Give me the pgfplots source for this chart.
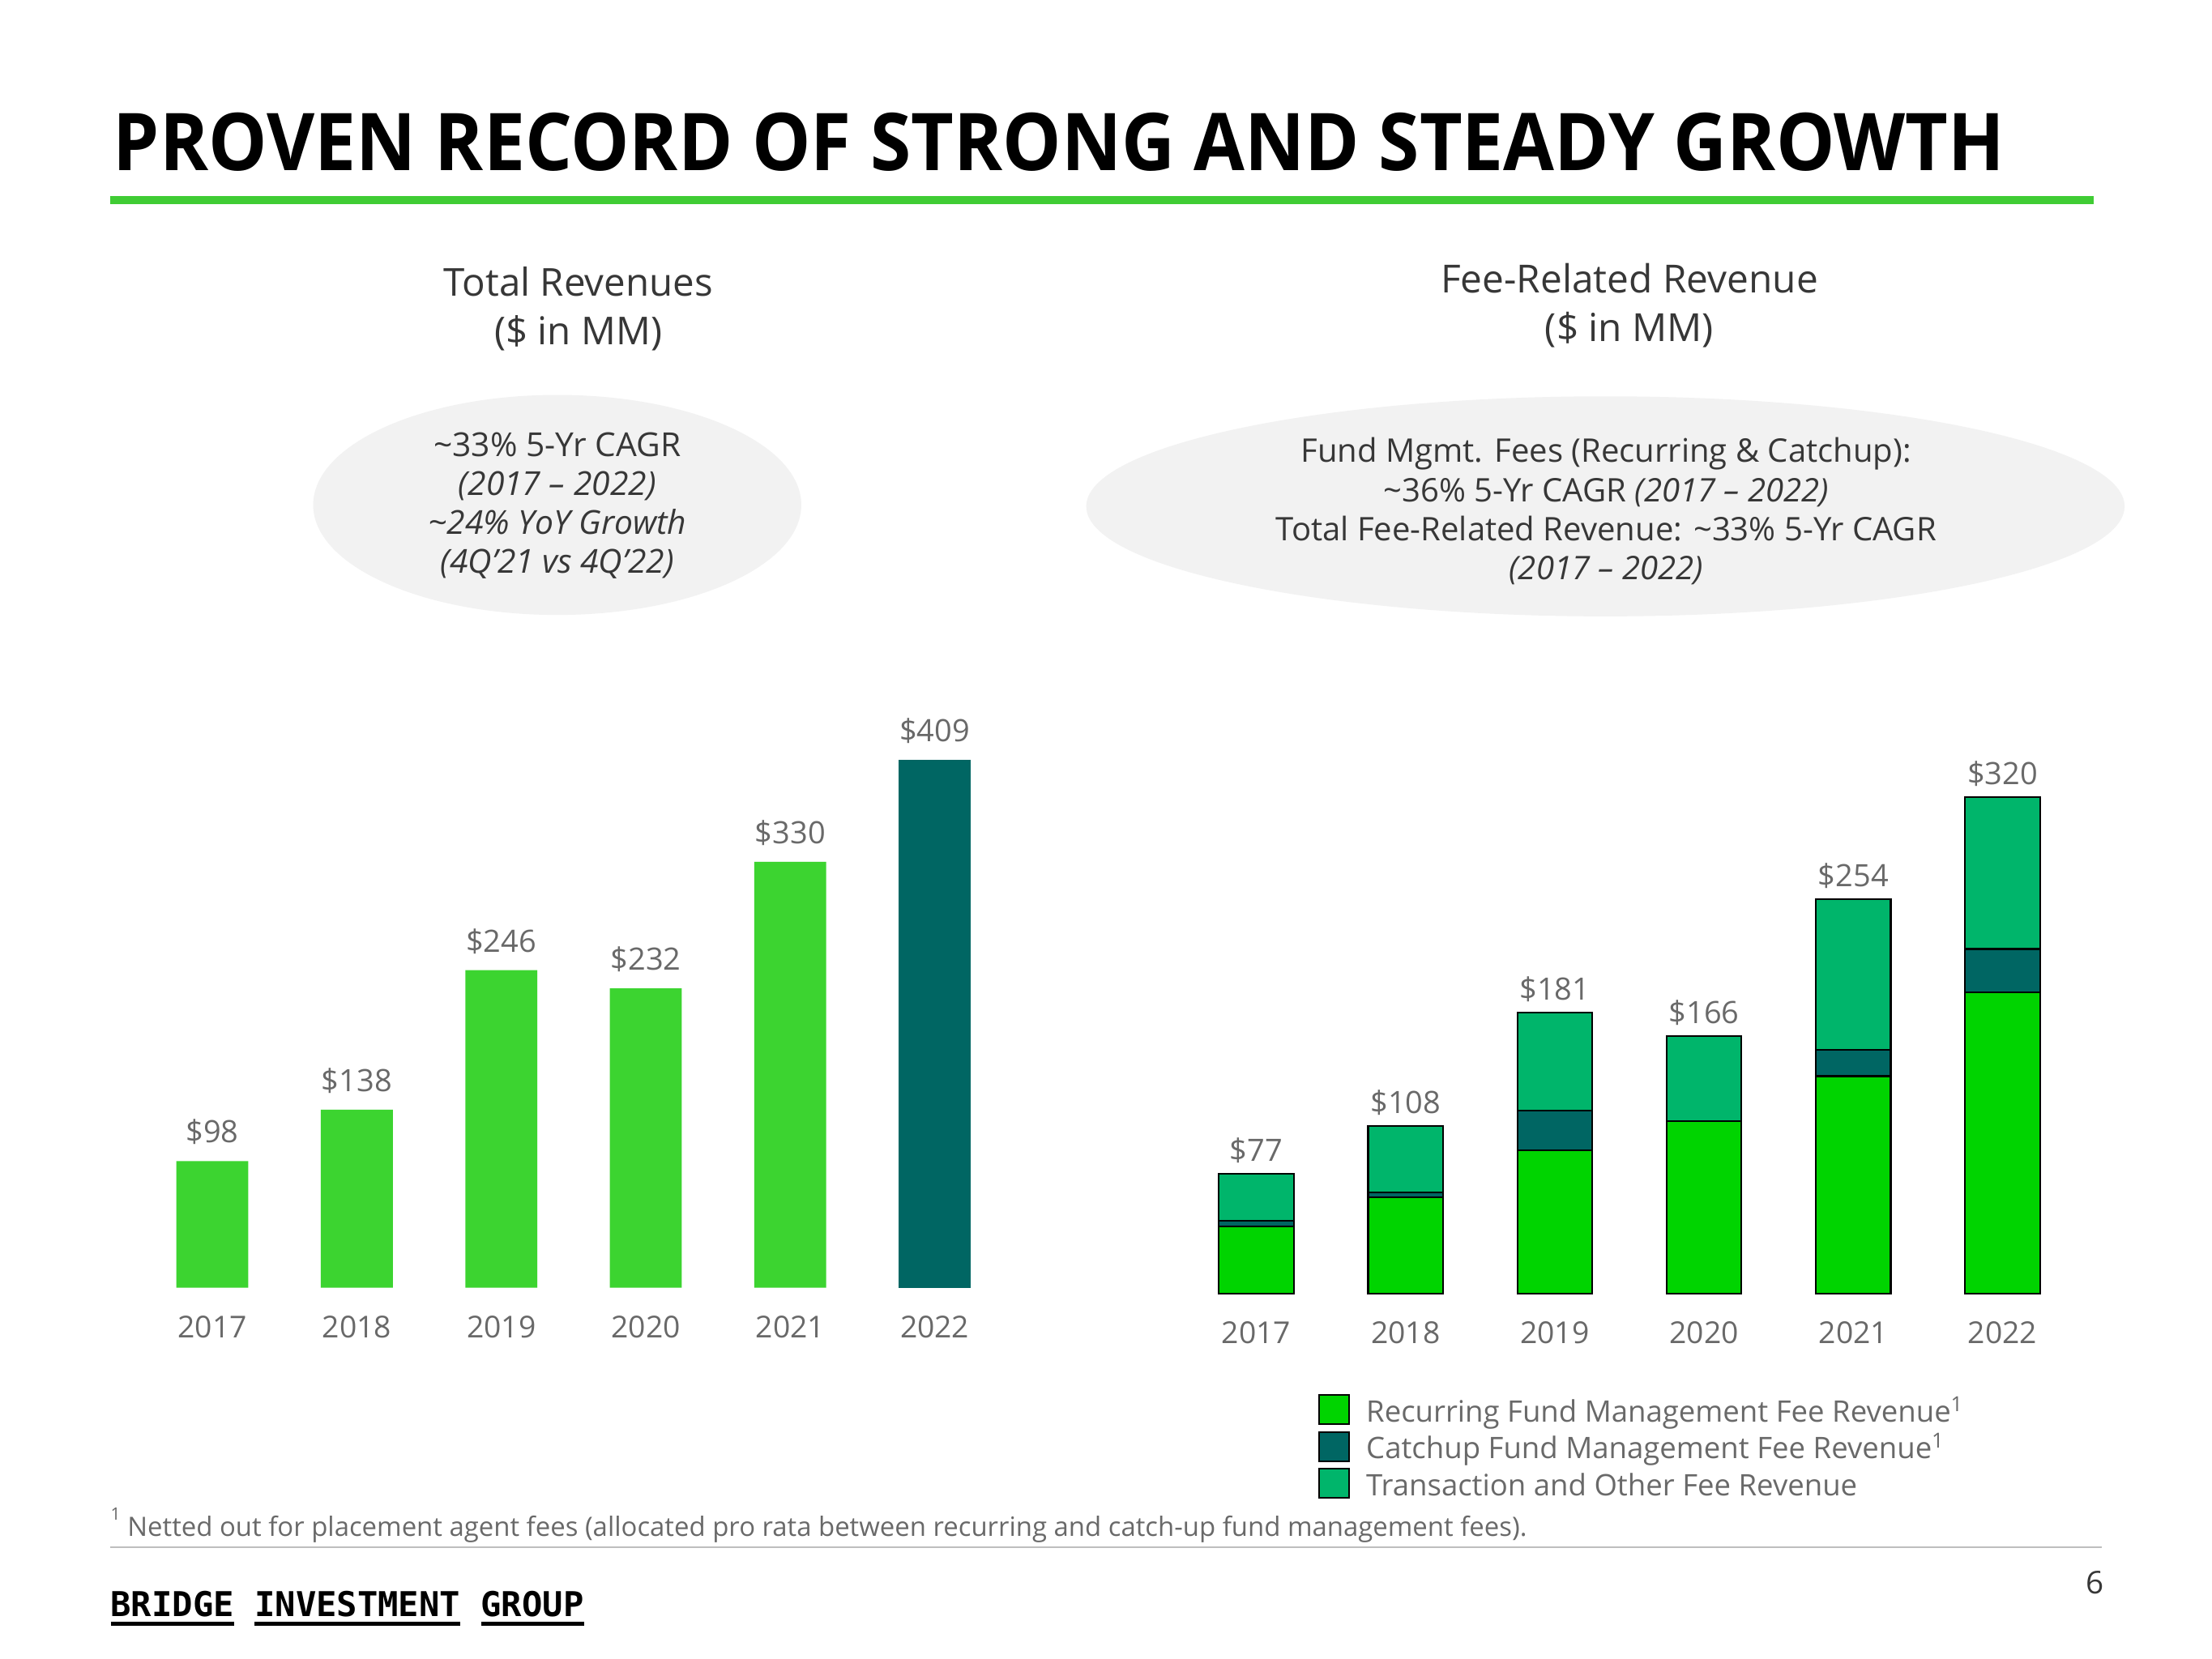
\documentclass[border=0pt]{standalone}
\usepackage{fontspec}
\setmainfont{Open Sans}
\newfontfamily\monofont{DejaVu Sans Mono}
\usepackage{pgfplots}
\pgfplotsset{compat=1.18}
\usepackage{pgfplotstable}
\definecolor{titlegreen}{RGB}{64,204,52}
\definecolor{leftgreen}{RGB}{60,212,48}
\definecolor{tealc}{RGB}{0,102,99}
\definecolor{recgreen}{RGB}{0,212,0}
\definecolor{transgreen}{RGB}{0,181,107}
\definecolor{ellgray}{RGB}{242,242,242}
\definecolor{darktext}{RGB}{55,55,55}
\definecolor{labgray}{RGB}{105,105,105}
\definecolor{rulegray}{RGB}{190,190,190}

\pgfplotstableread{
x total
0 98
1 138
2 246
3 232
4 330
}\totalA
\pgfplotstableread{
x total
5 409
}\totalB
\pgfplotstableread{
x rec catch trans total
0 43 4 30 77
1 62 3 43 108
2 92 26 63 181
3 111 0 55 166
4 140 17 97 254
5 194 28 98 320
}\fee

\newcommand\ulw[1]{\setbox0\hbox{#1}\rlap{\rule[-3.2pt]{\wd0}{1.2pt}}\box0\relax}

\begin{document}
\begin{tikzpicture}[x=0.01741cm,y=-0.01741cm]
\path[use as bounding box, fill=white] (0,0) rectangle (1568,1176);
% title
\node[anchor=base west, inner sep=0, font=\fontsize{28}{30}\selectfont\bfseries] at (80,121) {\scalebox{0.926}[1]{PROVEN RECORD OF STRONG AND STEADY GROWTH}};
\fill[titlegreen] (78,139) rectangle (1484,145);
% subtitles
\node[align=center, font=\fontsize{13.5}{16.9}\selectfont, text=darktext, inner sep=0] at (410,219) {Total Revenues\\(\$ in MM)};
\node[align=center, font=\fontsize{13.6}{17}\selectfont, text=darktext, inner sep=0] at (1155,216.5) {Fee-Related Revenue\\(\$ in MM)};
% ellipses
\fill[ellgray] (395,358) ellipse [x radius=173, y radius=78];
\fill[ellgray] (1138,359) ellipse [x radius=368, y radius=78];
\node[align=center, font=\fontsize{11.6}{13.7}\selectfont, text=darktext, inner sep=0] at (395,358.5) {\textasciitilde33\% 5-Yr CAGR\\\textit{(2017 -- 2022)}\\\textit{\textasciitilde24\% YoY Growth}\\\textit{(4Q'21 vs 4Q'22)}};
\node[align=center, font=\fontsize{11.4}{13.7}\selectfont, text=darktext, inner sep=0] at (1138.5,362.5) {Fund Mgmt. Fees (Recurring \& Catchup):\\\textasciitilde36\% 5-Yr CAGR \textit{(2017 -- 2022)}\\Total Fee-Related Revenue: \textasciitilde33\% 5-Yr CAGR\\\textit{(2017 -- 2022)}};
% footnote
\node[anchor=base west, inner sep=0, font=\fontsize{6}{7}\selectfont, text=labgray] at (78,1078) {1};
\node[anchor=base west, inner sep=0, font=\fontsize{9.36}{11}\selectfont, text=labgray] at (90,1089) {Netted out for placement agent fees (allocated pro rata between recurring and catch-up fund management fees).};
\draw[rulegray, line width=0.6pt] (78,1097) -- (1490,1097);
\node[anchor=base west, inner sep=0, font=\monofont\bfseries\fontsize{12}{14}\selectfont] at (78,1146) {\ulw{BRIDGE} \ulw{INVESTMENT} \ulw{GROUP}};
\node[inner sep=0, font=\fontsize{11}{13}\selectfont, text=darktext] at (1485,1122) {6};

% left chart
\begin{axis}[
  at={(1.729cm,-15.895cm)}, anchor=south west,
  x=1.783cm, y=0.01593cm,
  xmin=-0.5, xmax=5.5, ymin=0, ymax=450,
  axis line style={draw=none},
  xtick={0,...,5}, xticklabels={2017,2018,2019,2020,2021,2022},
  xtick style={draw=none}, ytick=\empty,
  xticklabel style={anchor=base, yshift=-0.47cm, font=\fontsize{10.6}{13}\selectfont, text=labgray, inner sep=0pt},
  ybar, bar width=0.888cm, bar shift=0pt,
  point meta=explicit,
  nodes near coords={\$\pgfmathprintnumber{\pgfplotspointmeta}},
  every node near coord/.append style={anchor=south, text depth=0pt, yshift=0.218cm, font=\fontsize{10.8}{13}\selectfont, text=labgray, inner sep=0pt},
  /pgf/number format/assume math mode=true,
  clip=false,
]
\addplot[fill=leftgreen, draw=none] table[x=x, y=total, meta=total] {\totalA};
\addplot[fill=tealc, draw=none] table[x=x, y=total, meta=total] {\totalB};
\end{axis}

% right chart
\begin{axis}[
  at={(14.583cm,-15.965cm)}, anchor=south west,
  x=1.842cm, y=0.01915cm,
  xmin=-0.5, xmax=5.5, ymin=0, ymax=350,
  axis line style={draw=none},
  xtick={0,...,5}, xticklabels={2017,2018,2019,2020,2021,2022},
  xtick style={draw=none}, ytick=\empty,
  xticklabel style={anchor=base, yshift=-0.618cm, font=\fontsize{10.6}{13}\selectfont, text=labgray, inner sep=0pt},
  ybar stacked, bar width=0.923cm,
  clip=false,
  legend style={at={(0.152,-0.185)}, anchor=north west, draw=none, fill=none,
    font=\fontsize{10.4}{12}\selectfont, text=labgray, inner sep=0pt, row sep=-0.035cm,
    nodes={inner sep=0pt, text height=0.3cm, text depth=0.153cm},
    /tikz/every odd column/.append style={column sep=0.2cm}},
  legend cell align=left,
  legend image code/.code={\draw[#1] (0cm,-0.107cm) rectangle (0.37cm,0.253cm);},
]
\addplot[fill=recgreen, draw=black, line width=0.6pt] table[x=x, y=rec] {\fee};
\addplot[fill=tealc, draw=black, line width=0.6pt] table[x=x, y=catch] {\fee};
\addplot[fill=transgreen, draw=black, line width=0.6pt] table[x=x, y=trans] {\fee};
\legend{Recurring Fund Management Fee Revenue\textsuperscript{1},Catchup Fund Management Fee Revenue\textsuperscript{1},Transaction and Other Fee Revenue}
\end{axis}

% right chart totals (same frame, labels only)
\begin{axis}[
  at={(14.583cm,-15.965cm)}, anchor=south west,
  x=1.842cm, y=0.01915cm,
  xmin=-0.5, xmax=5.5, ymin=0, ymax=350,
  hide axis,
  ybar, bar width=0.923cm, bar shift=0pt,
  point meta=explicit,
  nodes near coords={\$\pgfmathprintnumber{\pgfplotspointmeta}},
  every node near coord/.append style={anchor=south, text depth=0pt, yshift=0.148cm, font=\fontsize{10.8}{13}\selectfont, text=labgray, inner sep=0pt},
  /pgf/number format/assume math mode=true,
  clip=false,
]
\addplot[draw=none, fill=none] table[x=x, y=total, meta=total] {\fee};
\end{axis}
\end{tikzpicture}
\end{document}
